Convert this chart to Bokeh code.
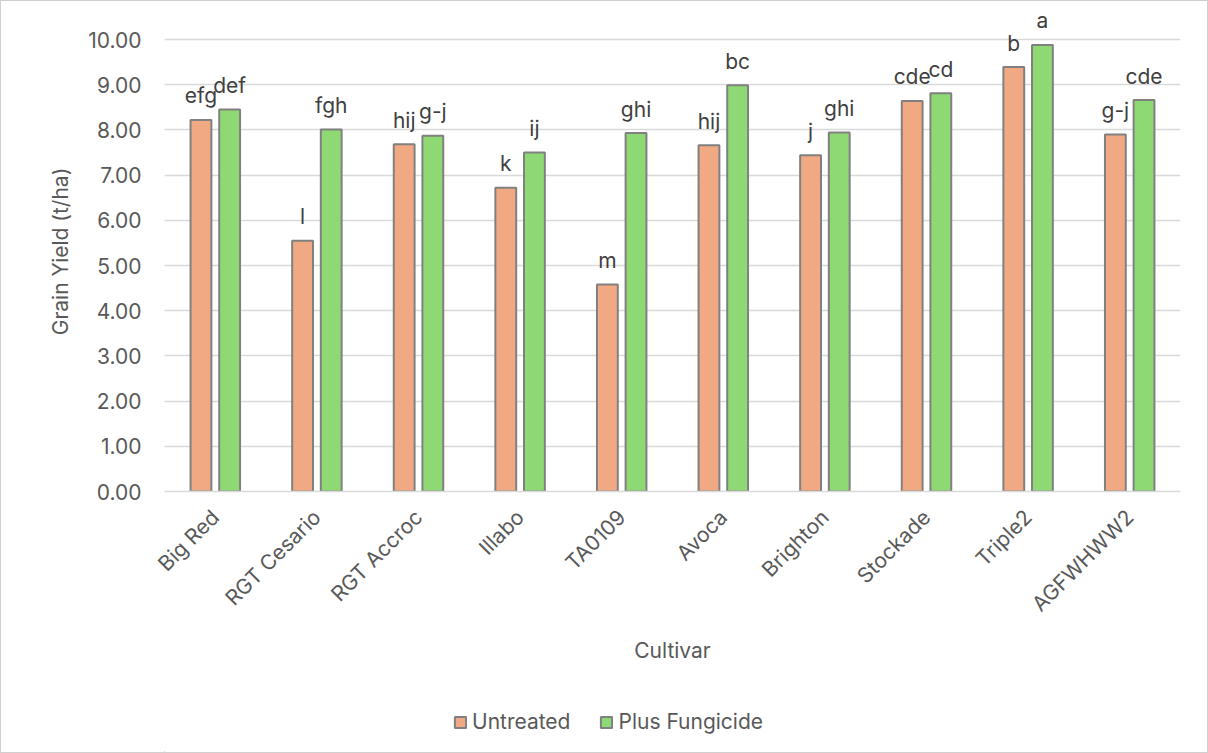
import math
from bokeh.plotting import figure
from bokeh.layouts import column
from bokeh.models import ColumnDataSource, FactorRange, Range1d, NumeralTickFormatter, Legend, LegendItem
from bokeh.transform import dodge
from bokeh.core.properties import value
from bokeh.embed import file_html
from bokeh.resources import INLINE

# ---- data ----
cultivars = ["Big Red", "RGT Cesario", "RGT Accroc", "Illabo", "TA0109",
             "Avoca", "Brighton", "Stockade", "Triple2", "AGFWHWW2"]
untreated = [8.22, 5.55, 7.68, 6.72, 4.58, 7.66, 7.44, 8.64, 9.39, 7.90]
fungicide = [8.45, 8.01, 7.87, 7.50, 7.93, 8.99, 7.94, 8.81, 9.88, 8.66]
untreated_letters = ["efg", "l", "hij", "k", "m", "hij", "j", "cde", "b", "g-j"]
fungicide_letters = ["def", "fgh", "g-j", "ij", "ghi", "bc", "ghi", "cd", "a", "cde"]
y_ticks = [0, 1, 2, 3, 4, 5, 6, 7, 8, 9, 10]
series_names = ["Untreated", "Plus Fungicide"]

FONT = "Inter"
FS = "21px"
TXT = "#595959"
C_UNT = "#F1A983"
C_FUN = "#8ED973"
C_EDGE = "#808080"

src = ColumnDataSource(dict(cultivar=cultivars, untreated=untreated, fungicide=fungicide,
                            ul=untreated_letters, fl=fungicide_letters))

p = figure(x_range=FactorRange(*cultivars), y_range=Range1d(0, 10 + 28 / 45.2),
           frame_width=1016, frame_height=480,
           min_border_left=163, min_border_right=27, min_border_top=10, min_border_bottom=200,
           output_backend="svg", toolbar_location=None)
p.outline_line_color = None
p.background_fill_color = "white"
p.border_fill_color = "white"

off = 0.141
w = 0.205
p.vbar(x=dodge("cultivar", -off, range=p.x_range), top="untreated", width=w, source=src,
       fill_color=C_UNT, line_color=C_EDGE, line_width=2)
p.vbar(x=dodge("cultivar", off, range=p.x_range), top="fungicide", width=w, source=src,
       fill_color=C_FUN, line_color=C_EDGE, line_width=2)

for col, dx in (("ul", -off), ("fl", off)):
    top = "untreated" if col == "ul" else "fungicide"
    p.text(x=dodge("cultivar", dx, range=p.x_range), y=top, text=col, source=src,
           text_align="center", text_baseline="alphabetic", y_offset=-24,
           text_font=value(FONT), text_font_size=FS, text_color="#404040")

# grid
p.xgrid.grid_line_color = None
p.ygrid.grid_line_color = "#d9d9d9"
p.ygrid.grid_line_width = 1.5

# y axis
p.yaxis.ticker = y_ticks
p.yaxis.formatter = NumeralTickFormatter(format="0.00")
p.yaxis.axis_line_color = None
p.yaxis.major_tick_line_color = None
p.yaxis.minor_tick_line_color = None
p.yaxis.major_label_standoff = 17
p.yaxis.major_label_text_font = FONT
p.yaxis.major_label_text_font_size = FS
p.yaxis.major_label_text_color = TXT
p.yaxis.axis_label = "Grain Yield (t/ha)"
p.yaxis.axis_label_text_font = FONT
p.yaxis.axis_label_text_font_size = FS
p.yaxis.axis_label_text_font_style = "normal"
p.yaxis.axis_label_text_color = TXT
p.yaxis.axis_label_standoff = 12

# x axis
p.xaxis.axis_line_color = "#d9d9d9"
p.xaxis.axis_line_width = 1.5
p.xaxis.major_tick_line_color = None
p.xaxis.minor_tick_line_color = None
p.xaxis.major_label_orientation = math.pi / 4
p.xaxis.major_label_standoff = 16
p.xaxis.major_label_text_font = FONT
p.xaxis.major_label_text_font_size = FS
p.xaxis.major_label_text_color = TXT
p.xaxis.axis_label = "Cultivar"
p.xaxis.axis_label_text_font = FONT
p.xaxis.axis_label_text_font_size = FS
p.xaxis.axis_label_text_font_style = "normal"
p.xaxis.axis_label_text_color = TXT
p.xaxis.axis_label_standoff = 10

# ---- legend strip (separate small figure under the chart) ----
q = figure(width=1206, height=61, x_range=Range1d(0, 1), y_range=Range1d(0, 1),
           min_border=0, output_backend="svg", toolbar_location=None)
q.axis.visible = False
q.grid.visible = False
q.outline_line_color = None
q.background_fill_color = "white"
q.border_fill_color = "white"
# legend proxies: one off-screen item each so the legend swatch has a style to draw
lr1 = q.vbar(x=[-5], top=[-5], width=0.1, fill_color=C_UNT, line_color=C_EDGE, line_width=2)
lr2 = q.vbar(x=[-5], top=[-5], width=0.1, fill_color=C_FUN, line_color=C_EDGE, line_width=2)
legend = Legend(items=[LegendItem(label=series_names[0], renderers=[lr1]),
                       LegendItem(label=series_names[1], renderers=[lr2])],
                orientation="horizontal", location=(289, 18),
                glyph_width=14, glyph_height=14, label_standoff=5, spacing=29,
                padding=0, margin=0, border_line_color=None, background_fill_alpha=0,
                label_text_font=FONT, label_text_font_size=FS, label_text_color=TXT)
q.add_layout(legend, "center")

lay = column(p, q, spacing=0)
lay.styles = {"border": "1px solid #d0d0d0"}

open("out.html", "w").write(file_html(lay, INLINE))
